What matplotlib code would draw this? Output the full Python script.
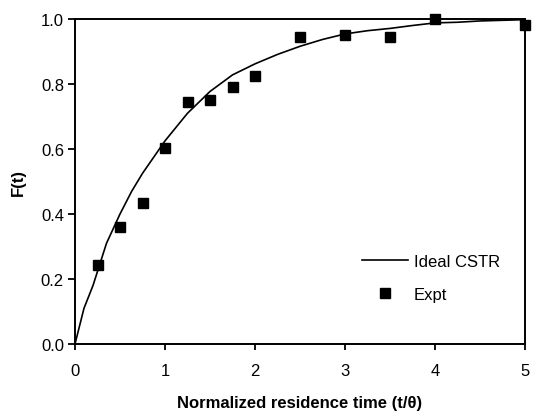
import matplotlib
matplotlib.use("Agg")
import matplotlib.pyplot as plt

# Ideal CSTR curve
t_ideal = [0, 0.1, 0.2, 0.35, 0.5, 0.63, 0.75, 1.0, 1.25, 1.5, 1.75, 2.0,
           2.25, 2.5, 2.75, 3.0, 3.25, 3.5, 3.75, 4.0, 4.25, 4.5, 4.75, 5.0]
f_ideal = [0, 0.11, 0.18, 0.31, 0.40, 0.47, 0.525, 0.625, 0.71, 0.777, 0.828, 0.862,
           0.891, 0.916, 0.937, 0.954, 0.964, 0.971, 0.98, 0.988, 0.99, 0.994, 0.996, 0.998]

# Experimental points
t_expt = [0.25, 0.5, 0.75, 1.0, 1.25, 1.5, 1.75, 2.0, 2.5, 3.0, 3.5, 4.0, 5.0]
f_expt = [0.243, 0.359, 0.434, 0.602, 0.744, 0.751, 0.792, 0.824, 0.946, 0.951, 0.945, 1.0, 0.982]

plt.rcParams["font.family"] = ["Liberation Sans", "DejaVu Sans"]

fig = plt.figure(figsize=(5.33, 4.14), dpi=100)
ax = fig.add_axes([75 / 533, 1 - 345 / 414, 450 / 533, 325 / 414])

ax.plot(t_ideal, f_ideal, color="black", linewidth=1.2, label="Ideal CSTR")
ax.plot(t_expt, f_expt, linestyle="none", marker="s", markersize=7, color="black",
        label="Expt", clip_on=False)

ax.set_xlim(0, 5)
ax.set_ylim(0, 1)
ax.set_xticks([0, 1, 2, 3, 4, 5])
ax.set_yticks([0, 0.2, 0.4, 0.6, 0.8, 1.0])
ax.set_yticklabels(["0.0", "0.2", "0.4", "0.6", "0.8", "1.0"])
ax.tick_params(direction="out", width=1.3, labelsize=12)
ax.tick_params(axis="x", length=4, pad=10)
ax.tick_params(axis="y", length=5, pad=3)

for sp in ax.spines.values():
    sp.set_linewidth(1.4)

ax.set_xlabel("Normalized residence time (t/\u03b8)", fontsize=12, fontweight="bold", labelpad=12)
ax.set_ylabel("F(t)", fontsize=12, fontweight="bold", labelpad=11)

ax.legend(loc="upper left", bbox_to_anchor=(0.638, 0.278), frameon=False, fontsize=12,
          borderpad=0, borderaxespad=0, handlelength=2.75, handletextpad=0.35,
          labelspacing=1.1)

fig.savefig("out.png", dpi=100)
